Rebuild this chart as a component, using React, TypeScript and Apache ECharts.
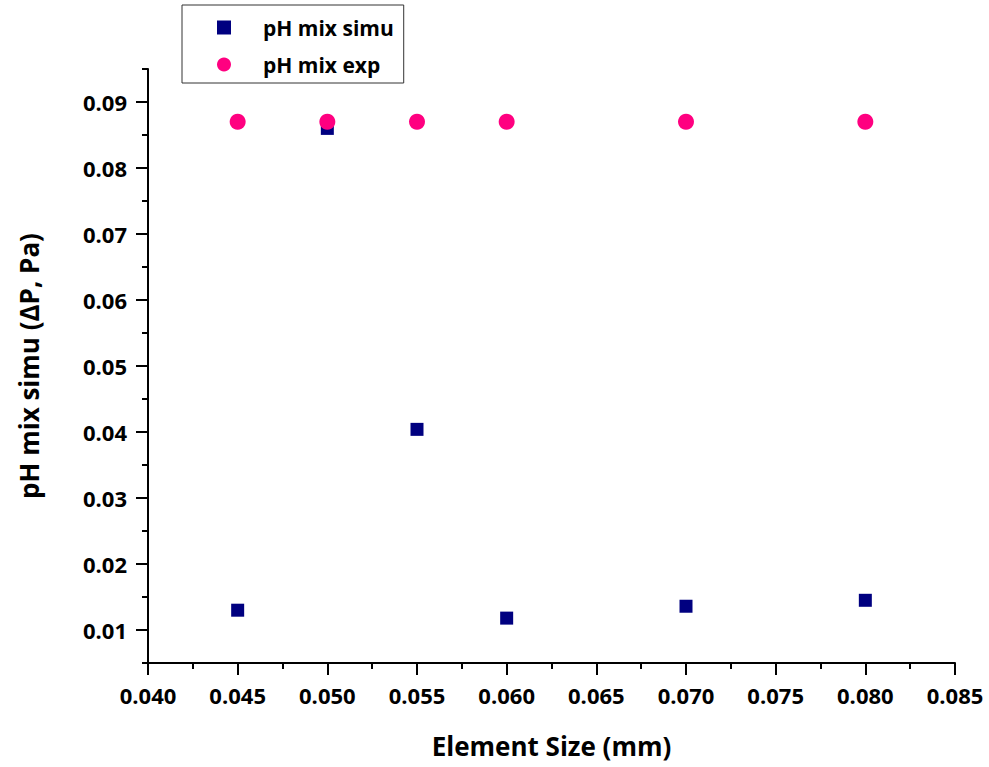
import React, { useEffect, useRef } from "react";
import * as echarts from "echarts";

const xSizes = [0.045, 0.05, 0.055, 0.06, 0.07, 0.08];
const simuValues = [0.013, 0.086, 0.0404, 0.0118, 0.0136, 0.0145];
const expValues = [0.087, 0.087, 0.087, 0.087, 0.087, 0.087];
const yMajorTicks = [0.01, 0.02, 0.03, 0.04, 0.05, 0.06, 0.07, 0.08, 0.09];
const yMinorTicks = [0.005, 0.015, 0.025, 0.035, 0.045, 0.055, 0.065, 0.075, 0.085, 0.095];

const FONT = "'Open Sans', 'DejaVu Sans', sans-serif";

export default function App() {
  const ref = useRef<HTMLDivElement>(null);
  useEffect(() => {
    if (!ref.current) return;
    const chart = echarts.init(ref.current, null, { renderer: "svg" });
    const axisLine = { show: true, lineStyle: { color: "#000", width: 2 } };
    chart.setOption({
      animation: false,
      backgroundColor: "#fff",
      textStyle: { fontFamily: FONT },
      grid: { left: 148, right: 34, top: 69, bottom: 104, containLabel: false },
      legend: {
        orient: "vertical",
        left: 182,
        top: 5,
        padding: [12, 10, 8, 35],
        borderColor: "#333",
        borderWidth: 1,
        itemWidth: 14,
        itemHeight: 14,
        itemGap: 16,
        itemStyle: { opacity: 1 },
        textStyle: {
          fontFamily: FONT,
          fontWeight: "bold",
          fontSize: 21,
          color: "#000",
          padding: [0, 0, 0, 27],
        },
        data: [
          { name: "pH mix simu", icon: "rect" },
          { name: "pH mix exp", icon: "circle" },
        ],
      },
      xAxis: {
        type: "value",
        min: 0.04,
        max: 0.085,
        interval: 0.005,
        name: "Element Size (mm)",
        nameLocation: "middle",
        nameGap: 70,
        nameTextStyle: { fontFamily: FONT, fontWeight: "bold", fontSize: 26, color: "#000" },
        axisLine: { ...axisLine, onZero: false },
        axisTick: { show: true, inside: false, length: 12, lineStyle: { color: "#000", width: 2 } },
        minorTick: { show: true, splitNumber: 2, length: 6, lineStyle: { color: "#000", width: 2 } },
        splitLine: { show: false },
        axisLabel: {
          margin: 21,
          fontFamily: FONT,
          fontWeight: "bold",
          fontSize: 22,
          color: "#000",
          formatter: (v: number) => v.toFixed(3),
        },
      },
      yAxis: [
        {
          type: "value",
          min: 0.005,
          max: 0.095,
          name: "pH mix simu (ΔP, Pa)",
          nameLocation: "middle",
          nameGap: 106,
          nameTextStyle: { fontFamily: FONT, fontWeight: "bold", fontSize: 26, color: "#000" },
          axisLine: { ...axisLine, onZero: false },
          axisTick: {
            show: true,
            inside: false,
            length: 12,
            customValues: yMajorTicks,
            lineStyle: { color: "#000", width: 2 },
          },
          splitLine: { show: false },
          axisLabel: {
            margin: 21,
            customValues: yMajorTicks,
            fontFamily: FONT,
            fontWeight: "bold",
            fontSize: 22,
            color: "#000",
            formatter: (v: number) => v.toFixed(2),
          },
        },
        {
          type: "value",
          min: 0.005,
          max: 0.095,
          position: "left",
          axisLine: { show: false },
          axisTick: {
            show: true,
            inside: false,
            length: 6,
            customValues: yMinorTicks,
            lineStyle: { color: "#000", width: 2 },
          },
          axisLabel: { show: false },
          splitLine: { show: false },
        },
      ],
      series: [
        {
          name: "pH mix simu",
          type: "scatter",
          symbol: "rect",
          symbolSize: 13,
          itemStyle: { color: "#000080", opacity: 1 },
          data: xSizes.map((x, i) => [x, simuValues[i]]),
          z: 2,
        },
        {
          name: "pH mix exp",
          type: "scatter",
          symbol: "circle",
          symbolSize: 16,
          itemStyle: { color: "#ff0080", opacity: 1 },
          data: xSizes.map((x, i) => [x, expValues[i]]),
          z: 3,
        },
      ],
    });
    return () => chart.dispose();
  }, []);
  return (
    <div
      ref={ref}
      style={{ position: "absolute", left: 0, top: 0, width: 989, height: 767 }}
    />
  );
}
